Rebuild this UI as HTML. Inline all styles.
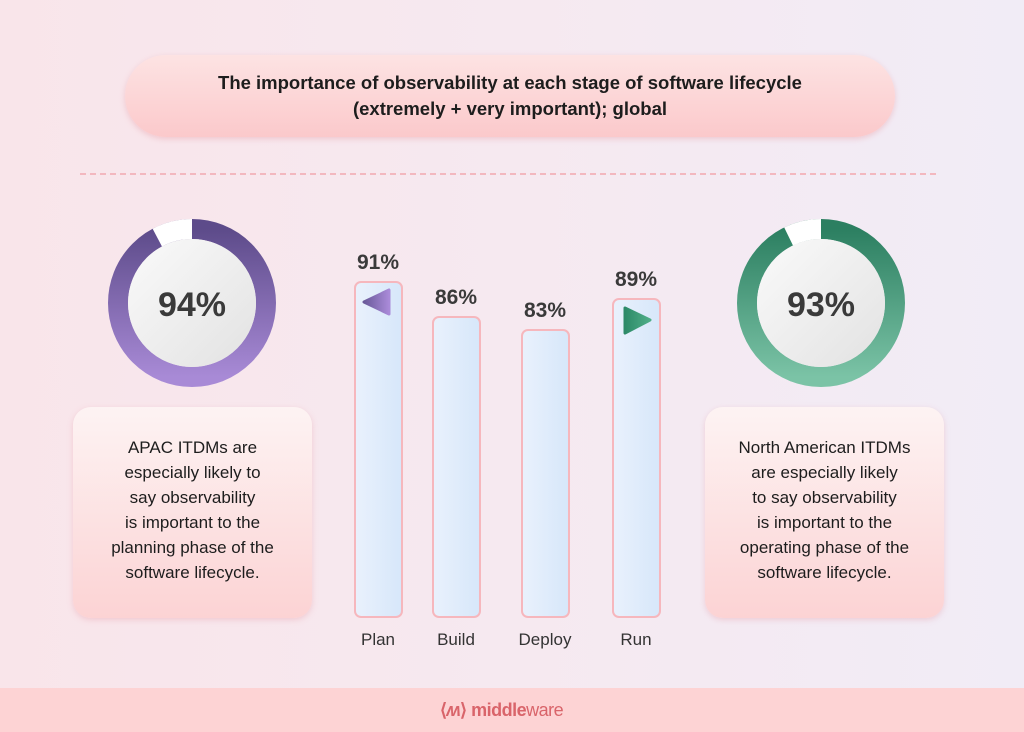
<!DOCTYPE html>
<html><head><meta charset="utf-8"><style>
*{margin:0;padding:0;box-sizing:border-box}
body{width:1024px;height:732px;overflow:hidden;position:relative;font-family:"Liberation Sans",sans-serif;background:linear-gradient(90deg,#f9e5ea 0%,#f6e9f0 50%,#f1ecf6 100%);color:#222}
.pill{position:absolute;left:125px;top:55px;width:770px;height:82px;border-radius:41px;background:linear-gradient(180deg,#fde3e3,#fbc9cb);box-shadow:0 2px 6px rgba(230,150,160,.4);text-align:center;font-size:18.5px;line-height:26px;padding-top:15px;font-weight:bold;color:#1d1d1d}
.dash{position:absolute;left:80px;top:173px;width:856px;border-top:2px dashed #f3b8bf}
.box{position:absolute;top:407px;width:239px;height:211px;border-radius:18px;background:linear-gradient(180deg,#fdf3f3,#fcd3d4);box-shadow:0 2px 6px rgba(230,150,160,.35);text-align:center;font-size:17px;line-height:25px;color:#1d1d1d;padding-top:28px}
.bar{position:absolute;width:49px;border:2px solid #f6b7bd;border-radius:7px;background:linear-gradient(90deg,#e9f1fc,#d7e7fa);bottom:114px}
.pct{position:absolute;width:80px;text-align:center;font-size:21px;font-weight:bold;color:#3a3a3a}
.lab{position:absolute;top:630px;width:80px;text-align:center;font-size:17px;color:#333}
.foot{position:absolute;left:0;top:688px;width:1024px;height:44px;background:#fdd3d4}
</style></head><body>
<div class="pill">The importance of observability at each stage of software lifecycle<br>(extremely + very important); global</div>
<div class="dash"></div>
<svg width="1024" height="732" style="position:absolute;left:0;top:0">
<defs>
<linearGradient id="pg" x1="0" y1="0" x2="0" y2="1"><stop offset="0" stop-color="#5d4b8a"/><stop offset="1" stop-color="#a88ad6"/></linearGradient>
<linearGradient id="gg" x1="0" y1="0" x2="0" y2="1"><stop offset="0" stop-color="#2c7f61"/><stop offset="1" stop-color="#7bc3a6"/></linearGradient>
<linearGradient id="ig" x1="0" y1="0" x2="1" y2="1"><stop offset="0" stop-color="#fafafa"/><stop offset="1" stop-color="#e2e2e2"/></linearGradient>
<linearGradient id="tp" x1="0" y1="0" x2="1" y2="0"><stop offset="0" stop-color="#6a5a9a"/><stop offset="1" stop-color="#a98ad8"/></linearGradient>
<linearGradient id="tg" x1="0" y1="0" x2="1" y2="0"><stop offset="0" stop-color="#2d8a68"/><stop offset="1" stop-color="#4fae88"/></linearGradient>
</defs>
<circle cx="192" cy="303" r="74" fill="none" stroke="url(#pg)" stroke-width="20"/>
<path d="M192 229 A74 74 0 0 0 157.3 237.6" fill="none" stroke="#fff" stroke-width="20"/>
<circle cx="192" cy="303" r="64" fill="url(#ig)"/>
<text x="192" y="316" text-anchor="middle" font-size="34" font-weight="bold" fill="#3a3a3a" font-family="Liberation Sans">94%</text>
<circle cx="821" cy="303" r="74" fill="none" stroke="url(#gg)" stroke-width="20"/>
<path d="M821 229 A74 74 0 0 0 788.6 236.5" fill="none" stroke="#fff" stroke-width="20"/>
<circle cx="821" cy="303" r="64" fill="url(#ig)"/>
<text x="821" y="316" text-anchor="middle" font-size="34" font-weight="bold" fill="#3a3a3a" font-family="Liberation Sans">93%</text>
</svg>
<div class="box" style="left:73px">APAC ITDMs are<br>especially likely to<br>say observability<br>is important to the<br>planning phase of the<br>software lifecycle.</div>
<div class="box" style="left:705px">North American ITDMs<br>are especially likely<br>to say observability<br>is important to the<br>operating phase of the<br>software lifecycle.</div>
<div class="bar" style="left:354px;top:281px"></div>
<div class="bar" style="left:432px;top:316px"></div>
<div class="bar" style="left:521px;top:329px"></div>
<div class="bar" style="left:612px;top:298px"></div>
<svg width="1024" height="732" style="position:absolute;left:0;top:0">
<polygon points="364,302 389,290 389,314" fill="url(#tp)" stroke="url(#tp)" stroke-width="3" stroke-linejoin="round"/>
<polygon points="625,308 650,320 625,333" fill="url(#tg)" stroke="url(#tg)" stroke-width="3" stroke-linejoin="round"/>
</svg>
<div class="pct" style="left:338px;top:251px">91%</div>
<div class="pct" style="left:416px;top:286px">86%</div>
<div class="pct" style="left:505px;top:299px">83%</div>
<div class="pct" style="left:596px;top:268px">89%</div>
<div class="lab" style="left:338px">Plan</div>
<div class="lab" style="left:416px">Build</div>
<div class="lab" style="left:505px">Deploy</div>
<div class="lab" style="left:596px">Run</div>
<div class="foot"></div>
<div style="position:absolute;left:440px;top:700px;font-size:18px;color:#d9646a;font-weight:bold;letter-spacing:-0.5px">⟨<span style="font-style:italic">ʍ</span>⟩ <span style="font-weight:bold">middle</span><span style="font-weight:normal">ware</span></div>
</body></html>
